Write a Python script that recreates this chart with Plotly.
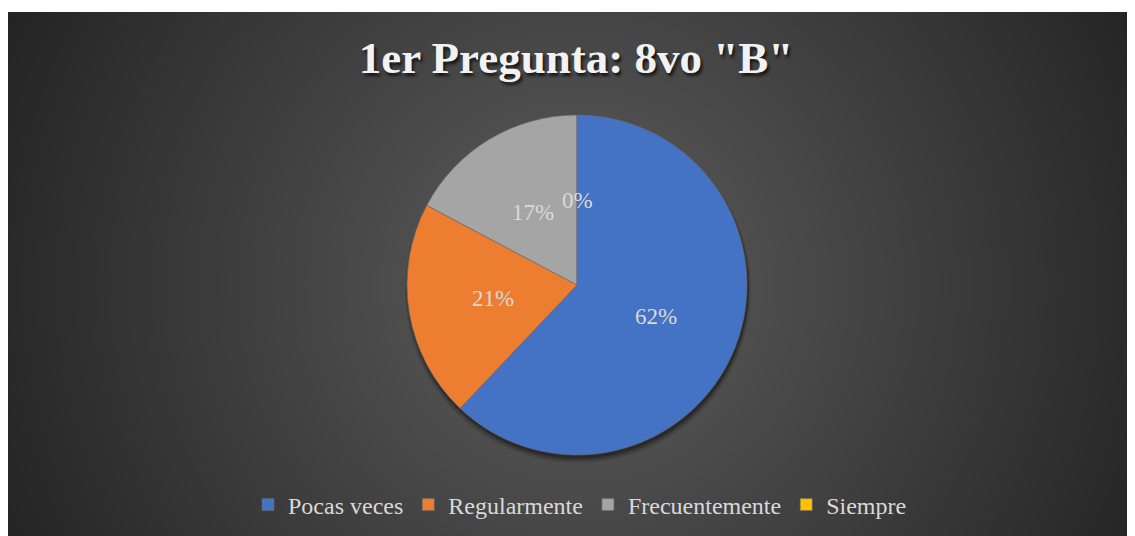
import base64, zlib, struct, math
import numpy as np
import plotly.graph_objects as go

# ---------------- data ----------------
categories = ["Pocas veces", "Regularmente", "Frecuentemente", "Siempre"]
counts = [18, 6, 5, 0]
colors = ["#4472C4", "#ED7D31", "#A5A5A5", "#FFC000"]
title_text = '1er Pregunta: 8vo "B"'

# page is rendered with an 8px body margin; work in page pixels and convert
OFF = 8
W, H = 1127, 528


def PX(px):
    return (px - OFF) / W


def PY(py):
    return 1 - (py - OFF) / H


# ---------------- background gradient (radial, dark theme) ----------------
bx0, by0, bx1, by1 = 8, 12, 1135, 536
bw, bh = bx1 - bx0, by1 - by0
yy, xx = np.mgrid[0:bh, 0:bw].astype(float)
cx, cy = bw / 2 + 6, bh / 2 + 10
d = np.sqrt((xx - cx) ** 2 + (yy - cy) ** 2)
r = d / math.hypot(bw / 2, bh / 2)
val = np.clip(94 - (94 - 37) * r, 30, 255).astype(np.uint8)


def to_png(arr):
    h, w = arr.shape
    raw = b"".join(b"\x00" + arr[i].tobytes() for i in range(h))

    def chunk(tag, data):
        c = struct.pack(">I", len(data)) + tag + data
        return c + struct.pack(">I", zlib.crc32(tag + data) & 0xFFFFFFFF)

    png = b"\x89PNG\r\n\x1a\n"
    png += chunk(b"IHDR", struct.pack(">IIBBBBB", w, h, 8, 0, 0, 0, 0))
    png += chunk(b"IDAT", zlib.compress(raw, 9))
    png += chunk(b"IEND", b"")
    return "data:image/png;base64," + base64.b64encode(png).decode()


bg_src = to_png(val)

# ---------------- pie geometry (page px) ----------------
pcx, pcy, pr = 577, 285, 170
dom_x = [PX(pcx - pr), PX(pcx + pr)]
dom_y = [PY(pcy + pr), PY(pcy - pr)]

fig = go.Figure()
fig.add_trace(go.Pie(
    labels=categories,
    values=counts,
    sort=False,
    direction="clockwise",
    rotation=0,
    marker=dict(colors=colors, line=dict(color="#6b6b6b", width=0.6)),
    textinfo="none",
    hoverinfo="label+percent",
    domain=dict(x=dom_x, y=dom_y),
))

# percentage labels at half radius of each slice's mid angle
total = sum(counts)
annotations = []
cum = 0
for c in counts:
    frac = c / total
    mid = (cum + frac / 2) * 2 * math.pi
    cum += frac
    lx = pcx + 0.5 * pr * math.sin(mid)
    ly = pcy - 0.5 * pr * math.cos(mid)
    annotations.append(dict(
        x=PX(lx), y=PY(ly), xref="paper", yref="paper",
        text=f"{round(frac * 100)}%", showarrow=False,
        font=dict(family="Liberation Serif", size=23, color="#d9d9d9"),
        xanchor="center", yanchor="middle",
    ))

# soft shadow under the pie
shapes = []
for off, grow, op in [(5, 3, 0.12), (4, 1.5, 0.18), (3, 0.5, 0.25)]:
    shapes.append(dict(
        type="circle", xref="paper", yref="paper", layer="below",
        x0=PX(pcx - pr - grow + 1), x1=PX(pcx + pr + grow + 1),
        y0=PY(pcy + pr + grow + off), y1=PY(pcy - pr - grow + off),
        fillcolor=f"rgba(0,0,0,{op})", line=dict(width=0),
    ))

fig.update_layout(
    width=W, height=H,
    margin=dict(l=0, r=0, t=0, b=0),
    paper_bgcolor="white",
    plot_bgcolor="rgba(0,0,0,0)",
    images=[dict(
        source=bg_src, xref="paper", yref="paper",
        x=PX(bx0), y=PY(by0), sizex=bw / W, sizey=bh / H,
        xanchor="left", yanchor="top", sizing="stretch", layer="below",
    )],
    shapes=shapes,
    annotations=annotations,
    title=dict(
        text=title_text, x=PX(576), y=PY(57),
        xanchor="center", yanchor="middle",
        font=dict(family="Liberation Serif", size=45, color="#f2f2f2",
                  weight="bold", shadow="2px 3px 3px rgba(0,0,0,0.7)"),
    ),
    legend=dict(
        orientation="h", x=PX(580), y=PY(505),
        xanchor="center", yanchor="middle",
        font=dict(family="Liberation Serif", size=24, color="#d9d9d9"),
        bgcolor="rgba(0,0,0,0)", itemwidth=30, traceorder="normal",
    ),
    showlegend=True,
)

fig.write_html("out.html")
